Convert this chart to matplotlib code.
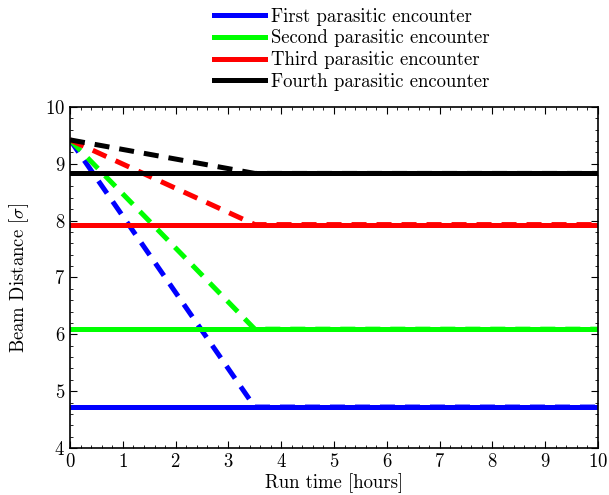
import numpy as np
import matplotlib
matplotlib.use("Agg")
import matplotlib.pyplot as plt
from matplotlib.ticker import MultipleLocator

plt.rcParams['font.family'] = 'cmr10'
plt.rcParams['mathtext.fontset'] = 'cm'
plt.rcParams['axes.formatter.use_mathtext'] = True
plt.rcParams['font.size'] = 13.5

# beam separation at each parasitic encounter
labels = ['First parasitic encounter', 'Second parasitic encounter',
          'Third parasitic encounter', 'Fourth parasitic encounter']
colors = ['#0000ff', '#00ff00', '#ff0000', '#000000']
final_sep = [4.72, 6.09, 7.93, 8.83]
start_sep = 9.42

# time points for the leveling ramp (hours)
t_ramp = [0, 3.5, 10]

fig = plt.figure(figsize=(6.09, 4.95), dpi=100)
ax = fig.add_axes([0.115, 0.095, 0.867, 0.689])

for lab, c, d in zip(labels, colors, final_sep):
    ax.plot([0, 10], [d, d], color=c, lw=3.6, label=lab)
    ax.plot(t_ramp, [start_sep, d, d], color=c, lw=3.6, ls=(0, (3, 2)))

ax.set_xlim(0, 10)
ax.set_ylim(4, 10)
ax.xaxis.set_major_locator(MultipleLocator(1))
ax.xaxis.set_minor_locator(MultipleLocator(0.2))
ax.yaxis.set_major_locator(MultipleLocator(1))
ax.yaxis.set_minor_locator(MultipleLocator(0.2))
ax.tick_params(which='both', direction='in', top=True, right=True)
ax.tick_params(which='major', length=5)
ax.tick_params(which='minor', length=2.5)
for s in ax.spines.values():
    s.set_linewidth(1.2)

ax.set_xlabel('Run time [hours]', labelpad=2)
ax.set_ylabel(r'Beam Distance [$\sigma$]', labelpad=10)

fig.legend(loc='upper left', bbox_to_anchor=(0.327, 1.015), frameon=False,
           handlelength=2.7, handletextpad=0.35, labelspacing=0.2,
           borderpad=0.3)

fig.savefig('out.png', dpi=100)
